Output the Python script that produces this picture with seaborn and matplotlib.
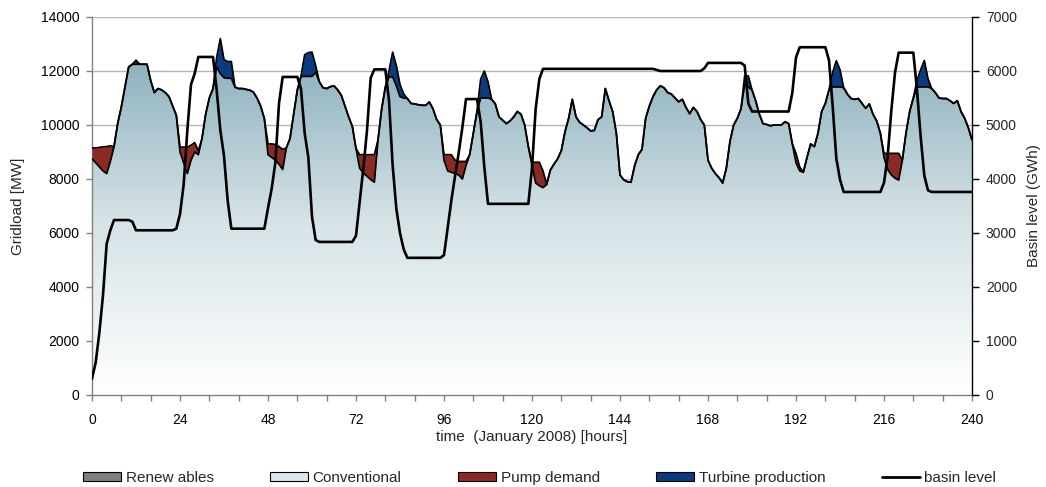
import numpy as np
import pandas as pd
import matplotlib
matplotlib.use("Agg")
import matplotlib.pyplot as plt
import seaborn as sns
from matplotlib.colors import LinearSegmentedColormap
from matplotlib.patches import Patch
from matplotlib.lines import Line2D

# ---------------- data (hourly) ----------------
hours = list(range(241))

renewables = [0] * 241  # not visible in the chart

conventional = [
    8750, 8600, 8450, 8300, 8200, 8650, 9200, 10050, 10670, 11400, 12150, 12250,
    12250, 12250, 12250, 12250, 11650, 11200, 11350, 11300, 11200, 11050, 10700, 10360,
    9000, 8600, 8200, 8700, 9000, 8900, 9500, 10400, 11000, 11350, 12150, 11900,
    11750, 11730, 11730, 11400, 11350, 11350, 11320, 11290, 11220, 11000, 10700, 10240,
    8900, 8800, 8700, 8550, 8350, 9150, 9500, 10400, 11300, 11800, 11800, 11800,
    11800, 11950, 11600, 11380, 11350, 11420, 11450, 11300, 11100, 10700, 10300, 9950,
    9130, 8400, 8220, 8100, 7980, 7880, 9450, 10600, 11400, 11780, 11780, 11450,
    11050, 11000, 10980, 10800, 10780, 10750, 10730, 10730, 10850, 10600, 10200, 10000,
    8700, 8300, 8250, 8200, 8150, 8000, 8500, 8900, 9700, 10500, 11000, 11000,
    11000, 10950, 10780, 10300, 10180, 10050, 10150, 10300, 10500, 10400, 10000, 9200,
    8500, 7850, 7750, 7680, 7800, 8330, 8550, 8750, 9050, 9750, 10250, 10950,
    10300, 10100, 10000, 9900, 9780, 9800, 10200, 10300, 11350, 10900, 10500, 9700,
    8150, 7970, 7900, 7880, 8500, 8900, 9100, 10250, 10700, 11050, 11300, 11450,
    11380, 11200, 11150, 11000, 10860, 10950, 10650, 10420, 10650, 10500, 10200, 10000,
    8700, 8400, 8200, 8050, 7850, 8400, 9400, 10000, 10250, 10600, 11500, 11400,
    11300, 10900, 10400, 10050, 10020, 9970, 10000, 10000, 10000, 10120, 10050, 9300,
    8600, 8300, 8250, 8800, 9300, 9200, 9700, 10500, 10800, 11300, 11410, 11410,
    11410, 11380, 11150, 10980, 10950, 10980, 10800, 10620, 10780, 10400, 10150, 9700,
    8800, 8350, 8150, 8030, 7960, 8700, 9700, 10500, 11000, 11400, 11410, 11410,
    11410, 11350, 11200, 11000, 10980, 10980, 10900, 10800, 10900, 10500, 10250, 9900,
    9450,
]

pump_demand = [
    400, 550, 720, 890, 1000, 580, 0, 0, 0, 0, 0, 0,
    0, 0, 0, 0, 0, 0, 0, 0, 0, 0, 0, 0,
    180, 580, 980, 550, 350, 150, 0, 0, 0, 0, 0, 0,
    0, 0, 0, 0, 0, 0, 0, 0, 0, 0, 0, 0,
    400, 500, 580, 650, 750, 0, 0, 0, 0, 0, 0, 0,
    0, 0, 0, 0, 0, 0, 0, 0, 0, 0, 0, 0,
    0, 500, 680, 800, 920, 1020, 0, 0, 0, 0, 0, 0,
    0, 0, 0, 0, 0, 0, 0, 0, 0, 0, 0, 0,
    200, 600, 650, 500, 500, 650, 150, 0, 0, 0, 0, 0,
    0, 0, 0, 0, 0, 0, 0, 0, 0, 0, 0, 0,
    120, 770, 870, 620, 0, 0, 0, 0, 0, 0, 0, 0,
    0, 0, 0, 0, 0, 0, 0, 0, 0, 0, 0, 0,
    0, 0, 0, 0, 0, 0, 0, 0, 0, 0, 0, 0,
    0, 0, 0, 0, 0, 0, 0, 0, 0, 0, 0, 0,
    0, 0, 0, 0, 0, 0, 0, 0, 0, 0, 0, 0,
    0, 0, 0, 0, 0, 0, 0, 0, 0, 0, 0, 0,
    350, 150, 0, 0, 0, 0, 0, 0, 0, 0, 0, 0,
    0, 0, 0, 0, 0, 0, 0, 0, 0, 0, 0, 0,
    150, 600, 800, 920, 990, 0, 0, 0, 0, 0, 0, 0,
    0, 0, 0, 0, 0, 0, 0, 0, 0, 0, 0, 0,
    0,
]

turbine_production = [
    0, 0, 0, 0, 0, 0, 0, 0, 0, 0, 0, 0,
    150, 0, 0, 0, 0, 0, 0, 0, 0, 0, 0, 0,
    0, 0, 0, 0, 0, 0, 0, 0, 0, 0, 350, 1300,
    670, 620, 620, 0, 0, 0, 0, 0, 0, 0, 0, 0,
    0, 0, 0, 0, 0, 0, 0, 0, 0, 0, 800, 880,
    900, 250, 0, 0, 0, 0, 0, 0, 0, 0, 0, 0,
    0, 0, 0, 0, 0, 0, 0, 0, 0, 220, 920, 750,
    450, 150, 0, 0, 0, 0, 0, 0, 0, 0, 0, 0,
    0, 0, 0, 0, 0, 0, 0, 0, 0, 0, 700, 1000,
    600, 0, 0, 0, 0, 0, 0, 0, 0, 0, 0, 0,
    0, 0, 0, 0, 0, 0, 0, 0, 0, 0, 0, 0,
    0, 0, 0, 0, 0, 0, 0, 0, 0, 0, 0, 0,
    0, 0, 0, 0, 0, 0, 0, 0, 0, 0, 0, 0,
    0, 0, 0, 0, 0, 0, 0, 0, 0, 0, 0, 0,
    0, 0, 0, 0, 0, 0, 0, 0, 0, 0, 320, 420,
    0, 0, 0, 0, 0, 0, 0, 0, 0, 0, 0, 0,
    0, 0, 0, 0, 0, 0, 0, 0, 0, 0, 540, 970,
    640, 0, 0, 0, 0, 0, 0, 0, 0, 0, 0, 0,
    0, 0, 0, 0, 0, 0, 0, 0, 0, 250, 640, 980,
    300, 0, 0, 0, 0, 0, 0, 0, 0, 0, 0, 0,
    0,
]

basin_level = [
    300, 600, 1150, 1850, 2800, 3050, 3240, 3240, 3240, 3240, 3240, 3210,
    3050, 3050, 3050, 3050, 3050, 3050, 3050, 3050, 3050, 3050, 3050, 3080,
    3350, 3900, 4900, 5750, 5950, 6260, 6260, 6260, 6260, 6260, 5650, 4900,
    4430, 3600, 3080, 3080, 3080, 3080, 3080, 3080, 3080, 3080, 3080, 3080,
    3460, 3820, 4300, 5400, 5890, 5890, 5890, 5890, 5890, 5670, 4850, 4400,
    3300, 2870, 2835, 2835, 2835, 2835, 2835, 2835, 2835, 2835, 2835, 2835,
    2950, 3580, 4200, 4900, 5870, 6030, 6030, 6030, 6030, 5450, 4250, 3450,
    3000, 2700, 2540, 2540, 2540, 2540, 2540, 2540, 2540, 2540, 2540, 2540,
    2590, 3100, 3600, 4050, 4480, 4950, 5480, 5480, 5480, 5480, 5060, 4220,
    3540, 3540, 3540, 3540, 3540, 3540, 3540, 3540, 3540, 3540, 3540, 3540,
    4200, 5300, 5850, 6040, 6040, 6040, 6040, 6040, 6040, 6040, 6040, 6040,
    6040, 6040, 6040, 6040, 6040, 6040, 6040, 6040, 6040, 6040, 6040, 6040,
    6040, 6040, 6040, 6040, 6040, 6040, 6040, 6040, 6040, 6040, 6020, 6000,
    6000, 6000, 6000, 6000, 6000, 6000, 6000, 6000, 6000, 6000, 6000, 6050,
    6150, 6150, 6150, 6150, 6150, 6150, 6150, 6150, 6150, 6150, 6100, 5400,
    5250, 5250, 5250, 5250, 5250, 5250, 5250, 5250, 5250, 5250, 5250, 5600,
    6250, 6440, 6440, 6440, 6440, 6440, 6440, 6440, 6440, 6200, 5350, 4380,
    3990, 3760, 3760, 3760, 3760, 3760, 3760, 3760, 3760, 3760, 3760, 3760,
    3930, 4420, 5270, 5970, 6340, 6340, 6340, 6340, 6340, 5650, 4780, 4060,
    3790, 3760, 3760, 3760, 3760, 3760, 3760, 3760, 3760, 3760, 3760, 3760,
    3760,
]

x_ticks = list(range(0, 241, 8))
x_labels = [str(t) if t % 24 == 0 else "" for t in x_ticks]
left_ticks = list(range(0, 14001, 2000))
right_ticks = list(range(0, 7001, 1000))

for arr in (renewables, conventional, pump_demand, turbine_production, basin_level):
    assert len(arr) == 241, len(arr)

df = pd.DataFrame({
    "hour": hours,
    "Renewables": renewables,
    "Conventional": conventional,
    "Pump demand": pump_demand,
    "Turbine production": turbine_production,
    "basin level": basin_level,
})
df["s1"] = df["Renewables"]
df["s2"] = df["s1"] + df["Conventional"]
df["s3"] = df["s2"] + df["Pump demand"]
df["s4"] = df["s3"] + df["Turbine production"]

# ---------------- style ----------------
sns.set_theme(style="white")
plt.rcParams["font.family"] = ["Liberation Sans", "DejaVu Sans"]
plt.rcParams["font.size"] = 10

PUMP = "#8b2a22"
TURB = "#0b3a7e"
GRID = "#b4b4b4"
AXG = "#808080"

fig = plt.figure(figsize=(10.46, 4.87), dpi=100)
ax = fig.add_axes([92 / 1046, 1 - 395 / 487, 880 / 1046, 378 / 487])

# gradient-filled conventional area
cmap = LinearSegmentedColormap.from_list("conv", ["#ffffff", "#d5e2e6", "#86acba"])
grad = np.linspace(0, 1, 256)[:, None]
im = ax.imshow(grad, extent=[0, 240, 0, 13000], origin="lower", aspect="auto",
               cmap=cmap, zorder=2, interpolation="bilinear")
conv_poly = ax.fill_between(df["hour"], df["s1"], df["s2"], facecolor="none",
                            edgecolor="none", zorder=2)
im.set_clip_path(conv_poly.get_paths()[0], transform=ax.transData)

ax.fill_between(df["hour"], 0, df["s1"], color="#808080", zorder=2, lw=0)
ax.fill_between(df["hour"], df["s2"], df["s3"], color=PUMP, zorder=3, lw=0)
ax.fill_between(df["hour"], df["s3"], df["s4"], color=TURB, zorder=3, lw=0)

sns.lineplot(data=df, x="hour", y="s2", ax=ax, color="black", lw=1.25, zorder=4)
sns.lineplot(data=df, x="hour", y="s4", ax=ax, color="black", lw=1.25, zorder=4)

ax.set_xlim(0, 240)
ax.set_ylim(0, 14000)
ax.set_xticks(x_ticks)
ax.set_xticklabels(x_labels)
ax.set_yticks(left_ticks)
ax.set_yticklabels([str(v) for v in left_ticks])
ax.yaxis.grid(True, color=GRID, lw=1.0, zorder=0)
ax.xaxis.grid(False)
ax.set_axisbelow(True)
for s in ("top", "right"):
    ax.spines[s].set_visible(False)
for s in ("left", "bottom"):
    ax.spines[s].set_color(AXG)
    ax.spines[s].set_linewidth(1.0)
ax.tick_params(axis="x", direction="out", length=4, width=1, color=AXG,
               pad=9, labelsize=10, labelcolor="black", bottom=True)
ax.tick_params(axis="y", direction="out", length=4, width=1, color=AXG,
               pad=5, labelsize=10, labelcolor="black", left=True)
ax.set_xlabel("time  (January 2008) [hours]", fontsize=11, labelpad=2)
ax.set_ylabel("Gridload [MW]", fontsize=11)
ax.yaxis.set_label_coords(-0.076, 0.5)

# secondary axis: basin level
ax2 = ax.twinx()
sns.lineplot(data=df, x="hour", y="basin level", ax=ax2, color="black", lw=1.9, zorder=5)
ax2.set_ylim(0, 7000)
ax2.set_xlim(0, 240)
ax2.set_yticks(right_ticks)
ax2.set_yticklabels([str(v) for v in right_ticks])
for s in ("top", "left", "bottom"):
    ax2.spines[s].set_visible(False)
ax2.spines["right"].set_color("black")
ax2.spines["right"].set_linewidth(1.0)
ax2.tick_params(axis="y", direction="out", length=5, width=1, color="black",
                pad=5, labelsize=10, right=True)
ax2.set_ylabel("Basin level (GWh)", fontsize=11)
ax2.yaxis.set_label_coords(1.063, 0.5)
ax2.grid(False)

# legend
handles = [
    Patch(facecolor="#808080", edgecolor="black", lw=0.8),
    Patch(facecolor="#dbe7eb", edgecolor="black", lw=0.8),
    Patch(facecolor=PUMP, edgecolor="black", lw=0.8),
    Patch(facecolor=TURB, edgecolor="black", lw=0.8),
    Line2D([0], [0], color="black", lw=2),
]
labels = ["Renew ables", "Conventional", "Pump demand", "Turbine production", "basin level"]
fig.legend(handles, labels, ncol=5, loc="center", bbox_to_anchor=(0.516, 1 - 478 / 487),
           frameon=False, fontsize=11, handlelength=2.5, handleheight=0.55,
           handletextpad=0.28, columnspacing=3.7)

fig.savefig("out.png", dpi=100)
